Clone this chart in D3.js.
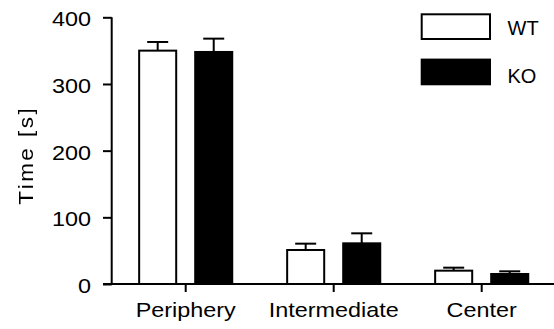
<!DOCTYPE html>
<html>
<head>
<meta charset="utf-8">
<script src="https://cdn.jsdelivr.net/npm/d3@7/dist/d3.min.js"></script>
<style>
  html, body { margin: 0; padding: 0; background: #fff; }
  svg { display: block; }
  text { font-family: "Liberation Sans", Arial, sans-serif; fill: #000; }
  .ytitle { filter: grayscale(1); }
</style>
</head>
<body>
<svg id="chart" width="554" height="329"></svg>
<script>
// Time spent in each zone of the open field, mean + SEM
const zones = ["Periphery", "Intermediate", "Center"];
const groups = ["WT", "KO"];
const wtMean = [350, 51, 20];
const wtSem = [13, 9.5, 4.5];
const koMean = [348, 61, 15];
const koSem = [20, 15, 4];
const yTicks = [0, 100, 200, 300, 400];
const yLabel = "Time [s]";

const series = {
  WT: { mean: wtMean, sem: wtSem, fill: "#fff" },
  KO: { mean: koMean, sem: koSem, fill: "#000" }
};

const svg = d3.select("#chart");

const y = d3.scaleLinear().domain([0, 400]).range([284, 17.3]);
const x0 = d3.scaleBand().domain(zones).range([111.7, 555.7]).paddingInner(0).paddingOuter(0);
const x1 = d3.scaleBand().domain(groups).range([0, x0.bandwidth()])
  .paddingInner(0.339).paddingOuter(0.49);

// axis labels are set in a slightly widened sans face
const stretch = 1.17;

// Bars
const rows = [];
zones.forEach((z, i) => {
  groups.forEach(g => {
    rows.push({ zone: z, group: g, mean: series[g].mean[i], sem: series[g].sem[i], fill: series[g].fill });
  });
});

const barG = svg.append("g");
const bw = x1.bandwidth();
const cx = d => x0(d.zone) + x1(d.group) + bw / 2;

barG.selectAll("line.err").data(rows).join("line")
  .attr("class", "err")
  .attr("x1", cx).attr("x2", cx)
  .attr("y1", d => y(d.mean))
  .attr("y2", d => y(d.mean + d.sem))
  .attr("stroke", "#000").attr("stroke-width", 2);

barG.selectAll("line.cap").data(rows).join("line")
  .attr("class", "cap")
  .attr("x1", d => cx(d) - 10.5)
  .attr("x2", d => cx(d) + 10.5)
  .attr("y1", d => y(d.mean + d.sem))
  .attr("y2", d => y(d.mean + d.sem))
  .attr("stroke", "#000").attr("stroke-width", 2);

barG.selectAll("rect").data(rows).join("rect")
  .attr("x", d => x0(d.zone) + x1(d.group))
  .attr("y", d => y(d.mean))
  .attr("width", bw)
  .attr("height", d => y(0) - y(d.mean))
  .attr("fill", d => d.fill)
  .attr("stroke", "#000").attr("stroke-width", 2);

// Y axis
const yTickSize = 8.7, yTickPad = 12;
const yAxis = svg.append("g")
  .attr("transform", `translate(${111.7},0)`)
  .call(d3.axisLeft(y).tickValues(yTicks).tickSize(yTickSize).tickPadding(yTickPad));
yAxis.select(".domain").attr("stroke-width", 2).attr("d", `M0,${y(400)}V${y(0)}`);
yAxis.selectAll(".tick line").attr("stroke-width", 2);
yAxis.selectAll(".tick text")
  .attr("font-size", "20px")
  .attr("font-family", "Liberation Sans, Arial, sans-serif")
  .attr("x", -(yTickSize + yTickPad) / stretch)
  .attr("transform", `scale(${stretch},1)`)
  .attr("dy", "0.42em");

// X axis
const xAxis = svg.append("g")
  .attr("transform", `translate(0,${y(0)})`)
  .call(d3.axisBottom(x0).tickSize(8).tickPadding(10.8));
xAxis.select(".domain").attr("stroke-width", 2).attr("d", `M103,0H556`);
xAxis.selectAll(".tick line").attr("stroke-width", 2);
xAxis.selectAll(".tick text")
  .attr("font-size", "20px")
  .attr("font-family", "Liberation Sans, Arial, sans-serif")
  .attr("transform", `scale(${stretch},1)`);

// Y axis title
svg.append("text")
  .attr("class", "ytitle")
  .attr("transform", `translate(33,156.5) rotate(-90) scale(1.12,1)`)
  .attr("text-anchor", "middle")
  .attr("font-size", "20px")
  .attr("fill", "#000")
  .attr("textLength", 86)
  .attr("lengthAdjust", "spacing")
  .text(yLabel);

// Legend
const legend = svg.append("g");
const legendRows = groups.map((g, i) => ({ g, i }));
legend.selectAll("rect").data(legendRows).join("rect")
  .attr("x", 421.7)
  .attr("y", d => 14.3 + d.i * 45.3)
  .attr("width", 68.3)
  .attr("height", 24.7)
  .attr("fill", d => series[d.g].fill)
  .attr("stroke", "#000").attr("stroke-width", 2);
legend.selectAll("text").data(legendRows).join("text")
  .attr("x", 507.5)
  .attr("y", d => 35 + d.i * 47.5)
  .attr("font-size", "20px")
  .text(d => d.g);
</script>
</body>
</html>
